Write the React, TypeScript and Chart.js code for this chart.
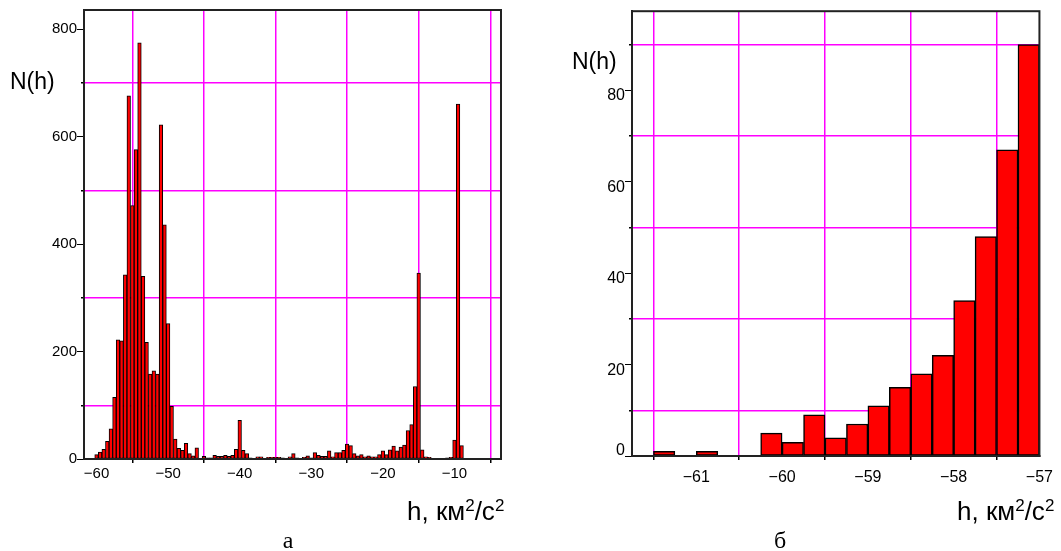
import React, { useEffect, useRef } from 'react';
import { Chart, registerables } from 'chart.js';

Chart.register(...registerables);

// ---------- Panel "а": histogram of h, bins 0.5 wide ----------
const binCentersA = [
  -61.5, -61, -60.5, -60, -59.5, -59, -58.5, -58, -57.5, -57, -56.5, -56, -55.5, -55, -54.5, -54,
  -53.5, -53, -52.5, -52, -51.5, -51, -50.5, -50, -49.5, -49, -48.5, -48, -47.5, -47, -46.5, -46,
  -45.5, -45, -44.5, -44, -43.5, -43, -42.5, -42, -41.5, -41, -40.5, -40, -39.5, -39, -38.5, -38,
  -37.5, -37, -36.5, -36, -35.5, -35, -34.5, -34, -33.5, -33, -32.5, -32, -31.5, -31, -30.5, -30,
  -29.5, -29, -28.5, -28, -27.5, -27, -26.5, -26, -25.5, -25, -24.5, -24, -23.5, -23, -22.5, -22,
  -21.5, -21, -20.5, -20, -19.5, -19, -18.5, -18, -17.5, -17, -16.5, -16, -15.5, -15, -14.5, -14,
  -13.5, -13, -12.5, -12, -11.5, -11, -10.5, -10, -9.5, -9,
];
const countsA = [
  1, 1, 0, 8, 13, 18, 33, 56, 115, 222, 220, 343, 676, 472, 576, 775,
  340, 217, 158, 164, 158, 622, 436, 252, 98, 37, 20, 16, 29, 10, 6, 21,
  1, 5, 2, 2, 7, 5, 5, 7, 5, 7, 18, 72, 16, 10, 2, 0,
  4, 4, 0, 3, 3, 3, 3, 2, 0, 4, 10, 2, 0, 3, 6, 2,
  12, 7, 5, 5, 15, 4, 12, 12, 16, 28, 25, 10, 6, 8, 4, 6,
  4, 4, 8, 15, 8, 17, 24, 15, 22, 26, 53, 64, 135, 346, 17, 4,
  3, 1, 1, 0, 0, 2, 3, 35, 661, 25,
];
const xLabelTicksA = [-60, -50, -40, -30, -20, -10];
const xGridTicksA = [-55, -45, -35, -25, -15, -5];
const yLabelTicksA = [0, 200, 400, 600, 800];
const yGridTicksA = [100, 300, 500, 700];

// ---------- Panel "б": zoom of the left tail, bins 0.25 wide ----------
const binCentersB = [
  -61.375, -61.125, -60.875, -60.625, -60.375, -60.125, -59.875, -59.625, -59.375,
  -59.125, -58.875, -58.625, -58.375, -58.125, -57.875, -57.625, -57.375, -57.125,
];
const countsB = [1, 0, 1, 0, 0, 5, 3, 9, 4, 7, 11, 15, 18, 22, 34, 48, 67, 90];
const xLabelTicksB = [-61, -60, -59, -58, -57];
const xGridTicksB = [-61.5, -60.5, -59.5, -58.5, -57.5];
const yLabelTicksB = [0, 20, 40, 60, 80];
const yGridTicksB = [10, 30, 50, 70, 90];

const MAGENTA = '#ff00ff';
const SANS = "'Liberation Sans', Arial, Helvetica, sans-serif";
const SERIF = "'Liberation Serif', 'Times New Roman', serif";
const CLEAR = 'rgba(0,0,0,0)';
const GRID_W = 1.5;

const fmt = (v: number) => (v < 0 ? '\u2212' + Math.abs(v) : String(v));

const framePlugin = {
  id: 'frameBox',
  afterDatasetsDraw(chart: any) {
    const { ctx, chartArea: a } = chart;
    ctx.save();
    ctx.strokeStyle = '#222';
    ctx.lineWidth = 2;
    ctx.strokeRect(a.left, a.top, a.right - a.left, a.bottom - a.top);
    ctx.restore();
  },
};

interface Spec {
  centers: number[];
  counts: number[];
  xMin: number;
  xMax: number;
  yMax: number;
  xLabels: number[];
  xGrid: number[];
  yLabels: number[];
  yGrid: number[];
  padding: { left: number; top: number; right: number; bottom: number };
  yWidth: number;
  xHeight: number;
  fontSize: number;
  barBorder: number;
  xTickLen: number;
  xPad: number;
  shiftedY: boolean;
}

function buildConfig(p: Spec): any {
  const gridSet = new Set(p.xGrid);
  const xTicks = [...p.xLabels, ...p.xGrid].sort((a, b) => a - b);
  const font = { family: SANS, size: p.fontSize, lineHeight: p.shiftedY ? 0.7 : 1.2 };
  return {
    type: 'bar',
    data: {
      datasets: [
        {
          data: p.centers.map((c, i) => ({ x: c, y: p.counts[i] })),
          backgroundColor: '#ff0000',
          borderColor: '#000000',
          borderWidth: p.barBorder,
          borderSkipped: false,
          barPercentage: 1,
          categoryPercentage: 1,
          xAxisID: 'x',
          yAxisID: 'y',
        },
      ],
    },
    options: {
      responsive: false,
      animation: false,
      events: [],
      layout: { padding: p.padding },
      plugins: { legend: { display: false }, tooltip: { enabled: false }, title: { display: false } },
      scales: {
        x: {
          type: 'linear',
          min: p.xMin,
          max: p.xMax,
          offset: false,
          afterBuildTicks: (s: any) => {
            s.ticks = xTicks.map((v) => ({ value: v }));
          },
          afterFit: (s: any) => {
            s.height = p.xHeight;
          },
          grid: {
            offset: false,
            lineWidth: GRID_W,
            color: (ctx: any) => (ctx.tick && gridSet.has(ctx.tick.value) ? MAGENTA : CLEAR),
            tickColor: (ctx: any) => (ctx.tick && gridSet.has(ctx.tick.value) ? '#000' : CLEAR),
            tickLength: p.xTickLen,
          },
          border: { display: true, color: '#222', width: 2 },
          ticks: {
            autoSkip: false,
            maxRotation: 0,
            minRotation: 0,
            padding: p.xPad,
            color: '#000',
            font: { family: SANS, size: p.fontSize },
            callback: (v: number) => (gridSet.has(v) ? '' : fmt(v)),
          },
        },
        y: {
          type: 'linear',
          position: 'left',
          weight: 1,
          min: 0,
          max: p.yMax,
          afterBuildTicks: (s: any) => {
            s.ticks = p.yLabels.map((v) => ({ value: v }));
          },
          afterFit: (s: any) => {
            s.width = p.yWidth;
          },
          grid: { drawOnChartArea: false, tickColor: '#000', tickLength: 7, lineWidth: 1 },
          border: { display: true, color: '#222', width: 2 },
          ticks: {
            padding: 0,
            color: '#000',
            font,
            callback: (v: number) =>
              p.shiftedY ? (v === 0 ? ['0', ''] : ['', String(v)]) : String(v),
          },
        },
        yg: {
          type: 'linear',
          position: 'left',
          weight: 0,
          min: 0,
          max: p.yMax,
          afterBuildTicks: (s: any) => {
            s.ticks = p.yGrid.map((v) => ({ value: v }));
          },
          afterFit: (s: any) => {
            s.width = 0;
          },
          grid: { color: MAGENTA, lineWidth: GRID_W, tickColor: '#000', tickLength: 3 },
          border: { display: false },
          ticks: { display: false },
        },
      },
    },
    plugins: [framePlugin],
  };
}

const specA: Spec = {
  centers: binCentersA,
  counts: countsA,
  xMin: -61.75,
  xMax: -3.5,
  yMax: 836,
  xLabels: xLabelTicksA,
  xGrid: xGridTicksA,
  yLabels: yLabelTicksA,
  yGrid: yGridTicksA,
  padding: { left: 0, top: 10, right: 29, bottom: 0 },
  yWidth: 84,
  xHeight: 92,
  fontSize: 15,
  barBorder: 1,
  xTickLen: 4,
  xPad: 2,
  shiftedY: false,
};

const specB: Spec = {
  centers: binCentersB,
  counts: countsB,
  xMin: -61.75,
  xMax: -57,
  yMax: 97.3,
  xLabels: xLabelTicksB,
  xGrid: xGridTicksB,
  yLabels: yLabelTicksB,
  yGrid: yGridTicksB,
  padding: { left: 0, top: 7, right: 15, bottom: 0 },
  yWidth: 102,
  xHeight: 95,
  fontSize: 16,
  barBorder: 1.5,
  xTickLen: 4,
  xPad: 8,
  shiftedY: true,
};

function Panel({ spec, left, width }: { spec: Spec; left: number; width: number }) {
  const ref = useRef<HTMLCanvasElement | null>(null);
  useEffect(() => {
    if (!ref.current) return;
    const chart = new Chart(ref.current, buildConfig(spec));
    return () => chart.destroy();
  }, [spec]);
  return (
    <canvas
      ref={ref}
      width={width}
      height={551}
      style={{ position: 'absolute', left, top: 0, width, height: 551, display: 'block' }}
    />
  );
}

const supStyle: React.CSSProperties = { fontSize: 17, position: 'relative', top: -9 };

function AxisTitle({ left, top }: { left: number; top: number }) {
  return (
    <div
      style={{
        position: 'absolute',
        left,
        top,
        fontFamily: SANS,
        fontSize: 26,
        lineHeight: '26px',
        whiteSpace: 'nowrap',
        color: '#000',
      }}
    >
      h, км<span style={supStyle}>2</span>/с<span style={supStyle}>2</span>
    </div>
  );
}

function NLabel({ left, top }: { left: number; top: number }) {
  return (
    <div
      style={{
        position: 'absolute',
        left,
        top,
        fontFamily: SANS,
        fontSize: 23,
        lineHeight: '23px',
        whiteSpace: 'nowrap',
        color: '#000',
      }}
    >
      N(h)
    </div>
  );
}

function Caption({ center, top, text }: { center: number; top: number; text: string }) {
  return (
    <div
      style={{
        position: 'absolute',
        left: center - 20,
        width: 40,
        top,
        textAlign: 'center',
        fontFamily: SERIF,
        fontSize: 24,
        lineHeight: '24px',
        color: '#000',
      }}
    >
      {text}
    </div>
  );
}

export default function App() {
  return (
    <div
      style={{
        position: 'absolute',
        left: 0,
        top: 0,
        width: 1061,
        height: 551,
        background: '#ffffff',
        overflow: 'hidden',
      }}
    >
      <Panel spec={specA} left={0} width={530} />
      <Panel spec={specB} left={530} width={531} />
      <NLabel left={10} top={70} />
      <NLabel left={572} top={50} />
      <AxisTitle left={407} top={498} />
      <AxisTitle left={957} top={498} />
      <Caption center={288} top={528} text="а" />
      <Caption center={780} top={528} text="б" />
    </div>
  );
}
